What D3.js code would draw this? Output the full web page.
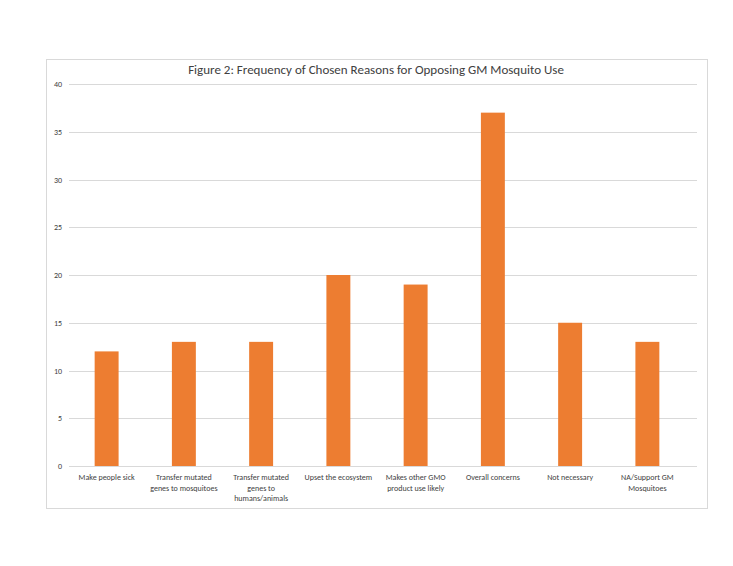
<!DOCTYPE html>
<html>
<head>
<meta charset="utf-8">
<script src="https://cdn.jsdelivr.net/npm/d3@7"></script>
<style>
  body { margin: 0; background: #fff; }
  text { font-family: Carlito, Calibri, "Open Sans", sans-serif; fill: #404040; }
</style>
</head>
<body>
<div id="chart"></div>
<script>
var categories = ["Make people sick", "Transfer mutated genes to mosquitoes", "Transfer mutated genes to humans/animals", "Upset the ecosystem", "Makes other GMO product use likely", "Overall concerns", "Not necessary", "NA/Support GM Mosquitoes"];
var labelLines = [["Make people sick"], ["Transfer mutated", "genes to mosquitoes"], ["Transfer mutated", "genes to", "humans/animals"], ["Upset the ecosystem"], ["Makes other GMO", "product use likely"], ["Overall concerns"], ["Not necessary"], ["NA/Support GM", "Mosquitoes"]];
var counts = [12, 13, 13, 20, 19, 37, 15, 13];
var yTicks = [0, 5, 10, 15, 20, 25, 30, 35, 40];

var width = 733, height = 566;
var svg = d3.select("#chart").append("svg")
    .attr("width", width)
    .attr("height", height);

// chart frame
svg.append("rect")
    .attr("x", 46.5).attr("y", 59.5)
    .attr("width", 661).attr("height", 449)
    .attr("fill", "#fff")
    .attr("stroke", "#d9d9d9");

svg.append("text")
    .attr("x", 376).attr("y", 74)
    .attr("text-anchor", "middle")
    .style("font-size", "13px")
    .style("fill", "#404040")
    .text("Figure 2: Frequency of Chosen Reasons for Opposing GM Mosquito Use");

var x = d3.scaleBand().domain(categories).range([68, 686]).paddingInner(0.69).paddingOuter(0.345);
var y = d3.scaleLinear().domain([0, 40]).range([466, 84]);

// gridlines
svg.append("g").selectAll("line")
    .data(yTicks.slice(1))
    .enter().append("line")
    .attr("x1", 69).attr("x2", 697)
    .attr("y1", function(d) { return Math.round(y(d)) + 0.5; })
    .attr("y2", function(d) { return Math.round(y(d)) + 0.5; })
    .attr("stroke", "#d9d9d9");

var yAxis = svg.append("g")
    .attr("transform", "translate(62,0)")
    .call(d3.axisLeft(y).tickValues(yTicks).tickSize(0).tickPadding(0));
yAxis.select(".domain").remove();
yAxis.selectAll("text").style("font-size", "8px");

svg.append("g").selectAll("rect")
    .data(counts)
    .enter().append("rect")
    .attr("x", function(d, i) { return x(categories[i]); })
    .attr("y", function(d) { return y(d); })
    .attr("width", x.bandwidth())
    .attr("height", function(d) { return y(0) - y(d); })
    .attr("fill", "#ed7d31");

// baseline
svg.append("line")
    .attr("x1", 69).attr("x2", 697)
    .attr("y1", Math.round(y(0)) + 0.5).attr("y2", Math.round(y(0)) + 0.5)
    .attr("stroke", "#d9d9d9");

var xl = svg.append("g");
categories.forEach(function(c, i) {
    var t = xl.append("text")
        .attr("x", x(c) + x.bandwidth() / 2)
        .attr("y", 480)
        .attr("text-anchor", "middle")
        .style("font-size", "8px");
    labelLines[i].forEach(function(line, j) {
        t.append("tspan")
            .attr("x", x(c) + x.bandwidth() / 2)
            .attr("dy", j === 0 ? 0 : 10.5)
            .text(line);
    });
});
</script>
</body>
</html>
